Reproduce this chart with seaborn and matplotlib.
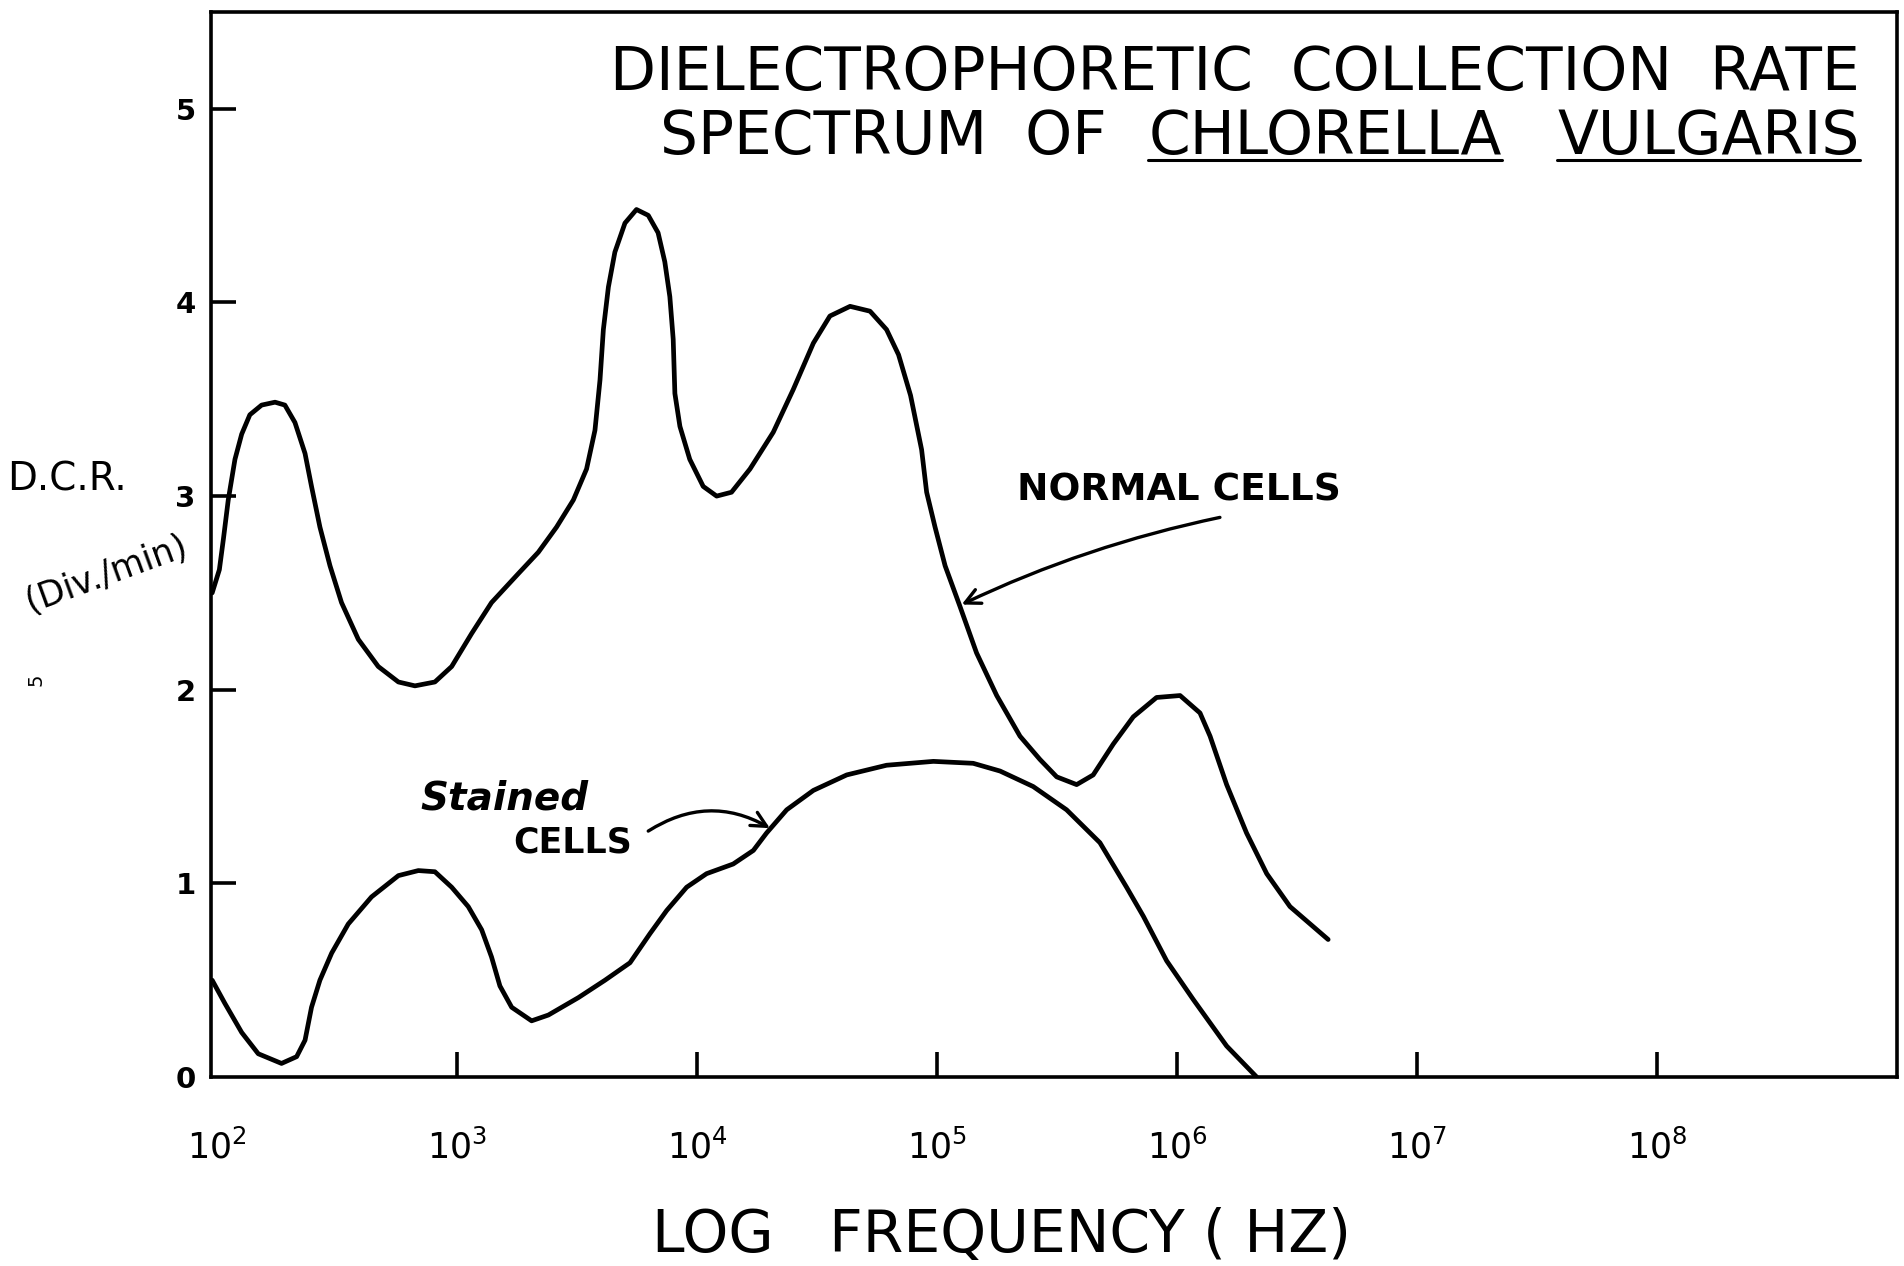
import numpy as np
import pandas as pd
import matplotlib
matplotlib.use("Agg")
import matplotlib.pyplot as plt
import seaborn as sns
from matplotlib.lines import Line2D

# ---------------- data ----------------
normal_log_freq = [1.98, 2.01, 2.027, 2.047, 2.075, 2.103, 2.137, 2.186, 2.242, 2.283,
                   2.325, 2.367, 2.394, 2.429, 2.471, 2.519, 2.589, 2.672, 2.756, 2.825,
                   2.908, 2.978, 3.061, 3.144, 3.256, 3.339, 3.415, 3.485, 3.540, 3.575,
                   3.596, 3.610, 3.631, 3.658, 3.700, 3.748, 3.797, 3.838, 3.866, 3.887,
                   3.901, 3.908, 3.929, 3.970, 4.026, 4.082, 4.144, 4.221, 4.318, 4.401,
                   4.485, 4.554, 4.638, 4.721, 4.790, 4.840, 4.890, 4.936, 4.957, 4.992,
                   5.034, 5.096, 5.165, 5.249, 5.346, 5.429, 5.499, 5.582, 5.651, 5.735,
                   5.818, 5.915, 6.013, 6.096, 6.138, 6.207, 6.290, 6.374, 6.471, 6.630]
normal_dcr = [2.50, 2.62, 2.78, 2.98, 3.19, 3.32, 3.42, 3.47, 3.485, 3.47,
              3.38, 3.22, 3.05, 2.84, 2.64, 2.45, 2.26, 2.12, 2.04, 2.02,
              2.04, 2.12, 2.29, 2.45, 2.60, 2.71, 2.84, 2.98, 3.14, 3.34,
              3.60, 3.86, 4.08, 4.26, 4.41, 4.48, 4.45, 4.36, 4.21, 4.03,
              3.81, 3.53, 3.36, 3.19, 3.05, 3.00, 3.02, 3.14, 3.33, 3.55,
              3.79, 3.93, 3.98, 3.955, 3.86, 3.73, 3.52, 3.24, 3.02, 2.84,
              2.64, 2.43, 2.19, 1.97, 1.76, 1.64, 1.55, 1.51, 1.56, 1.72,
              1.86, 1.96, 1.97, 1.88, 1.76, 1.51, 1.26, 1.05, 0.88, 0.71]

stained_log_freq = [1.98, 2.033, 2.103, 2.172, 2.269, 2.332, 2.367, 2.394, 2.429, 2.478,
                    2.547, 2.644, 2.756, 2.839, 2.908, 2.978, 3.047, 3.103, 3.144, 3.179,
                    3.228, 3.311, 3.381, 3.506, 3.617, 3.721, 3.804, 3.874, 3.957, 4.040,
                    4.151, 4.235, 4.290, 4.374, 4.485, 4.624, 4.790, 4.985, 5.151, 5.263,
                    5.401, 5.540, 5.679, 5.790, 5.860, 5.957, 6.068, 6.207, 6.332]
stained_dcr = [0.50, 0.38, 0.23, 0.12, 0.07, 0.105, 0.19, 0.36, 0.50, 0.64,
               0.79, 0.93, 1.04, 1.066, 1.06, 0.98, 0.88, 0.76, 0.62, 0.47,
               0.36, 0.29, 0.32, 0.41, 0.50, 0.59, 0.74, 0.86, 0.98, 1.05,
               1.10, 1.17, 1.26, 1.38, 1.48, 1.56, 1.61, 1.63, 1.62, 1.58,
               1.50, 1.38, 1.21, 0.98, 0.83, 0.60, 0.40, 0.16, 0.00]

x_tick_exponents = [2, 3, 4, 5, 6, 7, 8]
y_tick_values = [0, 1, 2, 3, 4, 5]

title_line1 = "DIELECTROPHORETIC  COLLECTION  RATE"
title_line2_parts = ["SPECTRUM  OF", "CHLORELLA", "VULGARIS"]
x_label = "LOG   FREQUENCY ( HZ)"

# ---------------- style ----------------
sns.set_theme(style="white")
plt.rcParams['font.family'] = ['DejaVu Sans']
plt.rcParams['mathtext.fontset'] = 'dejavusans'
plt.rcParams['text.color'] = 'black'
plt.rcParams['xtick.color'] = 'black'
plt.rcParams['ytick.color'] = 'black'
plt.rcParams['axes.labelcolor'] = 'black'

fig = plt.figure(figsize=(19.04, 12.66), dpi=100)
ax = fig.add_axes([0.1108, 0.1493, 0.8855, 0.8412])

normal_df = pd.DataFrame({"freq": 10 ** np.array(normal_log_freq), "dcr": normal_dcr})
stained_df = pd.DataFrame({"freq": 10 ** np.array(stained_log_freq), "dcr": stained_dcr})

line_kw = dict(color="black", linewidth=3.4, estimator=None, sort=False,
               solid_capstyle="round", solid_joinstyle="round")
sns.lineplot(data=normal_df, x="freq", y="dcr", ax=ax, **line_kw)
sns.lineplot(data=stained_df, x="freq", y="dcr", ax=ax, **line_kw)

ax.set_xscale("log")
ax.set_xlim(10 ** 1.975, 10 ** 9.0)
ax.set_ylim(0, 5.50)
ax.set_xlabel("")
ax.set_ylabel("")

ax.set_xticks([10.0 ** e for e in x_tick_exponents])
ax.set_xticklabels([r"$10^{%d}$" % e for e in x_tick_exponents])
ax.xaxis.set_minor_locator(matplotlib.ticker.NullLocator())
ax.set_yticks(y_tick_values)
ax.set_yticklabels([str(v) for v in y_tick_values])

for sp in ax.spines.values():
    sp.set_linewidth(2.6)
    sp.set_color("black")
    sp.set_visible(True)

ax.tick_params(axis="both", which="major", direction="in", length=18, width=2.6,
               color="black", bottom=True, left=True, top=False, right=False)
ax.tick_params(axis="x", labelsize=25, pad=38, labelcolor="black")
ax.tick_params(axis="y", labelsize=21, pad=11, labelcolor="black")
for lbl in ax.get_yticklabels():
    lbl.set_fontweight("bold")
ax.xaxis.get_major_ticks()[0].tick1line.set_visible(False)
ax.yaxis.get_major_ticks()[0].tick1line.set_visible(False)

# ---------------- title with underlined species name ----------------
FS = 43
ax.text(0.978, 0.927, title_line1, transform=ax.transAxes, ha="right",
        va="baseline", fontsize=FS, color="black")

fig.canvas.draw()
renderer = fig.canvas.get_renderer()
inv = ax.transAxes.inverted()
gaps = {"VULGARIS": 0.033, "CHLORELLA": 0.025, "SPECTRUM  OF": 0.0}
x_right = 0.978
base2 = 0.867
extents = []
for part in reversed(title_line2_parts):
    t = ax.text(x_right, base2, part, transform=ax.transAxes, ha="right",
                va="baseline", fontsize=FS, color="black")
    bb = t.get_window_extent(renderer)
    (x0, _), (x1, _) = inv.transform([[bb.x0, bb.y0], [bb.x1, bb.y1]])
    extents.append((part, x0, x1))
    x_right = x0 - gaps[part]

for part, x0, x1 in extents:
    if part in ("CHLORELLA", "VULGARIS"):
        ax.add_line(Line2D([x0, x1], [base2 - 0.006, base2 - 0.006],
                           transform=ax.transAxes, color="black", lw=2.2))

# ---------------- annotations ----------------
ax.text(10 ** 6.01, 3.03, "NORMAL CELLS", ha="center", va="center",
        fontsize=27, fontweight="bold", color="black")
ax.annotate("", xy=(10 ** 5.103, 2.44), xytext=(10 ** 6.179, 2.89),
            arrowprops=dict(arrowstyle="->,head_length=0.9,head_width=0.45",
                            lw=2.4, color="black",
                            connectionstyle="arc3,rad=0.06",
                            shrinkA=0, shrinkB=0))

ax.text(10 ** 3.20, 1.44, "Stained", ha="center", va="center",
        fontsize=28, style="italic", fontweight="bold", color="black")
ax.text(10 ** 3.48, 1.21, "CELLS", ha="center", va="center",
        fontsize=25, fontweight="bold", color="black")
ax.annotate("", xy=(10 ** 4.304, 1.285), xytext=(10 ** 3.797, 1.27),
            arrowprops=dict(arrowstyle="->,head_length=0.9,head_width=0.45",
                            lw=2.4, color="black",
                            connectionstyle="arc3,rad=-0.3",
                            shrinkA=0, shrinkB=0))

# ---------------- axis labels ----------------
fig.text(0.526, 0.024, x_label, ha="center", va="center", fontsize=42,
         color="black")
fig.text(0.035, 0.621, "D.C.R.", ha="center", va="center", fontsize=28,
         color="black")
fig.text(0.056, 0.547, "(Div./min)", ha="center", va="center", fontsize=25,
         rotation=20, color="black")
fig.text(0.019, 0.463, "5", ha="center", va="center", fontsize=14,
         rotation=90, color="black")

fig.savefig("out.png", dpi=100, facecolor="white")
